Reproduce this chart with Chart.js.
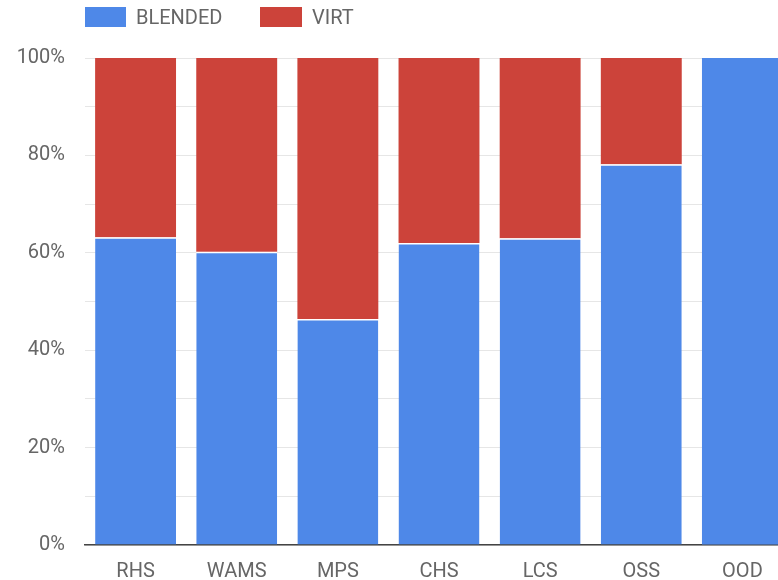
<!DOCTYPE html>
<html>
<head>
<meta charset="utf-8">
<script src="https://cdn.jsdelivr.net/npm/chart.js@4.4.1/dist/chart.umd.min.js"></script>
<style>
  html, body { margin: 0; padding: 0; background: #fff; overflow: hidden; }
  #wrap { position: relative; width: 778px; height: 580px; overflow: hidden; }
  #chart { position: absolute; left: 0; top: 0; }
  .key { position: absolute; top: 7px; height: 20px; }
  .lab { position: absolute; top: 5px; font: 20px Roboto, sans-serif; color: #666; line-height: 24px; }
</style>
</head>
<body>
<div id="wrap">
  <canvas id="chart" width="800" height="580"></canvas>
  <div class="key" style="left:85px;width:41px;background:#4e88e8"></div>
  <div class="lab" style="left:136px">BLENDED</div>
  <div class="key" style="left:260px;width:42px;background:#cc433a"></div>
  <div class="lab" style="left:312px">VIRT</div>
</div>
<script>
// dane (udział w %)
const categories = ['RHS', 'WAMS', 'MPS', 'CHS', 'LCS', 'OSS', 'OOD'];
const blended = [63.2, 60.2, 46.4, 62.0, 63.0, 78.2, 100];
const virt = [36.8, 39.8, 53.6, 38.0, 37.0, 21.8, 0];

const BLUE = '#4e88e8';
const RED = '#cc433a';

new Chart(document.getElementById('chart'), {
    type: 'bar',
    data: {
        labels: categories,
        datasets: [
            {
                label: 'BLENDED',
                data: blended,
                backgroundColor: BLUE,
                borderColor: '#ffffff',
                // biała kreska tylko tam, gdzie nad słupkiem jest czerwony segment
                borderWidth: (ctx) => ({ top: virt[ctx.dataIndex] > 0 ? 1.5 : 0, left: 0, right: 0, bottom: 0 }),
                borderSkipped: false,
                barPercentage: 0.8,
                categoryPercentage: 1
            },
            {
                label: 'VIRT',
                data: virt,
                backgroundColor: RED,
                borderWidth: 0,
                barPercentage: 0.8,
                categoryPercentage: 1
            }
        ]
    },
    options: {
        responsive: false,
        animation: false,
        layout: { padding: { top: 58, right: 7, left: 0, bottom: 0 } },
        plugins: { legend: { display: false }, tooltip: { enabled: false } },
        scales: {
            x: {
                stacked: true,
                grid: { display: false },
                border: { color: '#444', width: 1.5 },
                ticks: { font: { family: 'Roboto', size: 20 }, color: '#666', padding: 7 },
                afterFit: (axis) => { axis.height = 35; }
            },
            y: {
                stacked: true,
                min: 0,
                max: 100,
                grid: { color: '#e6e6e6', drawTicks: false },
                border: { display: false },
                ticks: {
                    stepSize: 10,
                    padding: 20,
                    font: { family: 'Roboto', size: 20 },
                    color: '#666',
                    callback: (v) => (v % 20 === 0 ? v + '%' : '')
                },
                afterFit: (axis) => { axis.width = 85; }
            }
        }
    }
});
</script>
</body>
</html>
